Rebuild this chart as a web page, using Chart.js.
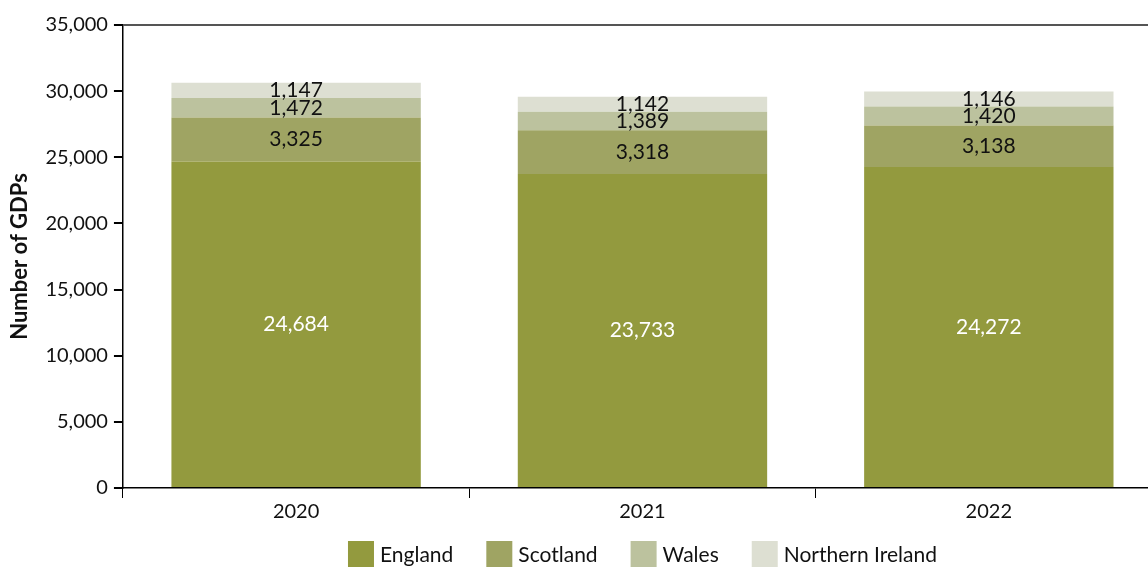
<!DOCTYPE html>
<html>
<head>
<meta charset="utf-8">
<script src="https://cdn.jsdelivr.net/npm/chart.js@4/dist/chart.umd.min.js"></script>
<style>
  html, body { margin: 0; padding: 0; background: #fff; overflow: hidden; }
  #wrap { width: 1170px; height: 567px; }
</style>
</head>
<body>
<div id="wrap"><canvas id="gdpChart" width="1170" height="567"></canvas></div>
<script>
const years = ["2020", "2021", "2022"];
const england = [24684, 23733, 24272];
const scotland = [3325, 3318, 3138];
const wales = [1472, 1389, 1420];
const northernIreland = [1147, 1142, 1146];
const yTicks = [0, 5000, 10000, 15000, 20000, 25000, 30000, 35000];

const fontFamily = "Lato, 'Open Sans', sans-serif";

// valeurs écrites au centre de chaque segment
const segmentLabels = {
  id: "segmentLabels",
  afterDatasetsDraw(chart) {
    const ctx = chart.ctx;
    ctx.save();
    ctx.font = "21px " + fontFamily;
    ctx.textAlign = "center";
    ctx.textBaseline = "middle";
    chart.data.datasets.forEach((ds, i) => {
      chart.getDatasetMeta(i).data.forEach((bar, j) => {
        const mid = (bar.y + bar.base) / 2;
        ctx.fillStyle = i === 0 ? "#ffffff" : "#111111";
        ctx.fillText(ds.data[j].toLocaleString("en-GB"), bar.x, mid);
      });
    });
    ctx.restore();
  },
};

// légende dessinée à la main, centrée sous la zone du graphique
const bottomLegend = {
  id: "bottomLegend",
  afterDraw(chart) {
    const ctx = chart.ctx;
    const box = 26, gapText = 6, gapItem = 33, y = 554;
    ctx.save();
    ctx.font = "21px " + fontFamily;
    ctx.textBaseline = "middle";
    const items = chart.data.datasets.map((ds) => ({
      label: ds.label,
      color: ds.backgroundColor,
      w: ctx.measureText(ds.label).width,
    }));
    const total = items.reduce((s, it) => s + box + gapText + it.w, 0) + gapItem * (items.length - 1);
    const area = chart.chartArea;
    let x = (area.left + area.right) / 2 - total / 2;
    items.forEach((it) => {
      ctx.fillStyle = it.color;
      ctx.fillRect(x, y - box / 2, box, box);
      ctx.fillStyle = "#111";
      ctx.fillText(it.label, x + box + gapText, y + 1);
      x += box + gapText + it.w + gapItem;
    });
    ctx.restore();
  },
};

new Chart(document.getElementById("gdpChart"), {
  type: "bar",
  data: {
    labels: years,
    datasets: [
      { label: "England", data: england, backgroundColor: "#939a3e" },
      { label: "Scotland", data: scotland, backgroundColor: "#9fa463" },
      { label: "Wales", data: wales, backgroundColor: "#bcc29e" },
      { label: "Northern Ireland", data: northernIreland, backgroundColor: "#dddfd2" },
    ],
  },
  options: {
    responsive: false,
    animation: false,
    barPercentage: 0.72,
    categoryPercentage: 1,
    layout: { padding: { top: 25, right: 8, left: 7, bottom: 41 } },
    plugins: {
      tooltip: { enabled: false },
      legend: { display: false },
    },
    scales: {
      x: {
        stacked: true,
        border: { color: "#000", width: 1.5 },
        grid: {
          drawOnChartArea: false,
          tickLength: 10,
          tickColor: "#000",
        },
        ticks: {
          color: "#111",
          padding: 2,
          font: { family: fontFamily, size: 20 },
        },
      },
      y: {
        stacked: true,
        min: 0,
        max: 35000,
        afterBuildTicks: (axis) => {
          axis.ticks = yTicks.map((v) => ({ value: v }));
        },
        border: { color: "#000", width: 1.5 },
        grid: {
          color: (c) => (c.tick && c.tick.value === 35000 ? "#555" : "rgba(0,0,0,0)"),
          lineWidth: 2,
          tickLength: 9,
          tickColor: "#000",
        },
        ticks: {
          color: "#111",
          padding: 6,
          font: { family: fontFamily, size: 20 },
          callback: (v) => v.toLocaleString("en-GB"),
        },
        title: {
          display: true,
          text: "Number of GDPs",
          color: "#111",
          font: { family: fontFamily, size: 22, weight: "bold" },
          padding: { top: 0, bottom: 6 },
        },
      },
    },
  },
  plugins: [segmentLabels, bottomLegend],
});
</script>
</body>
</html>
